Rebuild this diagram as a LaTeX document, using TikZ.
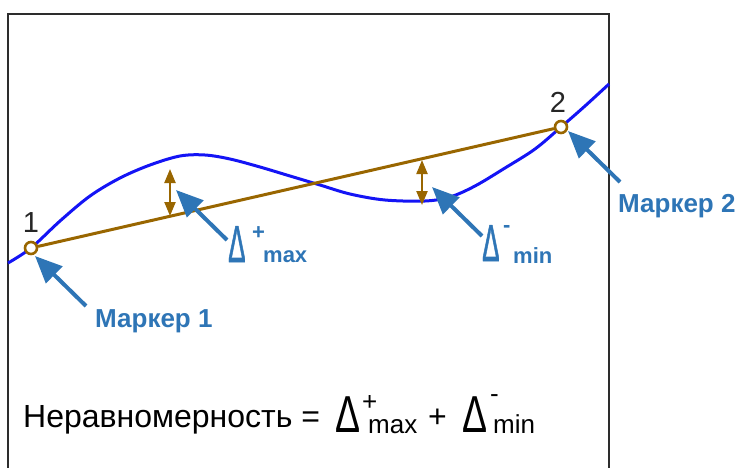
\documentclass[tikz,border=0pt]{standalone}
\usepackage{fontspec}
\setmainfont{Liberation Sans}
\newfontfamily\deltafont[FakeBold=1.6]{Liberation Sans}
\usepackage{graphicx}
\usetikzlibrary{arrows.meta}
\definecolor{curveblue}{RGB}{20,20,245}
\definecolor{chordbrown}{RGB}{153,102,0}
\definecolor{callblue}{RGB}{46,117,182}
\definecolor{framegray}{RGB}{45,45,45}
\newcommand{\slimdelta}[1]{\scalebox{#1}[1]{Δ}}

\begin{document}
\begin{tikzpicture}[x=1pt, y=-1pt,
    frameline/.style={framegray, line width=2pt},
    curve/.style={curveblue, line width=3pt},
    chord/.style={chordbrown, line width=3pt},
    markdot/.style={circle, draw=chordbrown, fill=white, line width=2.6pt, minimum size=12pt, inner sep=0pt},
    gap/.style={chordbrown, line width=2.2pt, {Triangle[length=14pt,width=11pt]}-{Triangle[length=14pt,width=11pt]}},
    callout/.style={callblue, line width=4pt, -{Triangle[length=27pt,width=23pt]}},
    calltext/.style={callblue, font=\fontsize{26}{30}\selectfont\bfseries, inner sep=0pt, anchor=base west},
    calldelta/.style={callblue, font=\fontsize{52}{52}\deltafont, inner sep=0pt, anchor=base west},
    callscript/.style={callblue, font=\fontsize{22}{24}\selectfont\bfseries, inner sep=0pt, anchor=base west},
    digit/.style={text=black!85, font=\fontsize{29}{29}\selectfont, inner sep=0pt},
    eqtext/.style={font=\fontsize{32}{36}\selectfont, inner sep=0pt, anchor=base west},
    eqdelta/.style={font=\fontsize{52}{52}\selectfont, inner sep=0pt, anchor=base west},
    eqscript/.style={font=\fontsize{26}{28}\selectfont, inner sep=0pt, anchor=base west}]
    \useasboundingbox (0,0) rectangle (747,467);
    \draw[frameline] (8,468) -- (8,14) -- (609,14) -- (609,468);
    \draw[curve] plot[smooth, tension=0.55] coordinates {(8,263) (31,248) (60,221) (90,196)
        (120,178) (150,165) (180,156) (205,155) (230,159) (260,167) (290,176) (320,185)
        (350,194) (385,200) (425,201) (450,197) (475,186) (505,168) (535,149) (561,127)
        (585,106) (609,84)};
    \node[markdot] (m1) at (31,248) {};
    \node[markdot] (m2) at (561,127) {};
    \draw[chord] (m1) -- (m2);
    \node[digit] (n1) at (31,223) {1};
    \node[digit] (n2) at (558,102) {2};
    \coordinate (gmaxlo) at (170,216);
    \coordinate (gmaxhi) at (170,169);
    \coordinate (gminhi) at (422,160);
    \coordinate (gminlo) at (422,205);
    \draw[gap] (gmaxlo) -- (gmaxhi);
    \draw[gap] (gminhi) -- (gminlo);
    \node[calltext] (lab1) at (95,327) {Маркер 1};
    \node[calltext] (lab2) at (618,212) {Маркер 2};
    \node[calldelta] (dmax) at (228,262) {\slimdelta{0.5}};
    \node[callscript] (dmaxsup) at (252,239) {+};
    \node[callscript] (dmaxsub) at (263,262) {max};
    \node[calldelta] (dmin) at (482,261) {\slimdelta{0.5}};
    \node[callscript] (dminsup) at (503,232) {-};
    \node[callscript] (dminsub) at (513,263) {min};
    \coordinate (c1) at (86,306);
    \coordinate (c2) at (620,182);
    \coordinate (cmax) at (227,240);
    \coordinate (cmin) at (482,236);
    \coordinate (t1) at (35,256);
    \coordinate (t2) at (568,131);
    \coordinate (tmax) at (176,190);
    \coordinate (tmin) at (432,187);
    \draw[callout] (c1) -- (t1);
    \draw[callout] (c2) -- (t2);
    \draw[callout] (cmax) -- (tmax);
    \draw[callout] (cmin) -- (tmin);
    \node[eqtext] (eq) at (23,427) {Неравномерность =};
    \node[eqdelta] (ed1) at (335,432) {\slimdelta{0.72}};
    \node[eqscript] (ed1sup) at (362,410) {+};
    \node[eqscript] (ed1sub) at (368,433) {max};
    \node[eqtext] (eqplus) at (428,427) {+};
    \node[eqdelta] (ed2) at (462,432) {\slimdelta{0.72}};
    \node[eqscript] (ed2sup) at (490,402) {-};
    \node[eqscript] (ed2sub) at (493,433) {min};
\end{tikzpicture}
\end{document}
